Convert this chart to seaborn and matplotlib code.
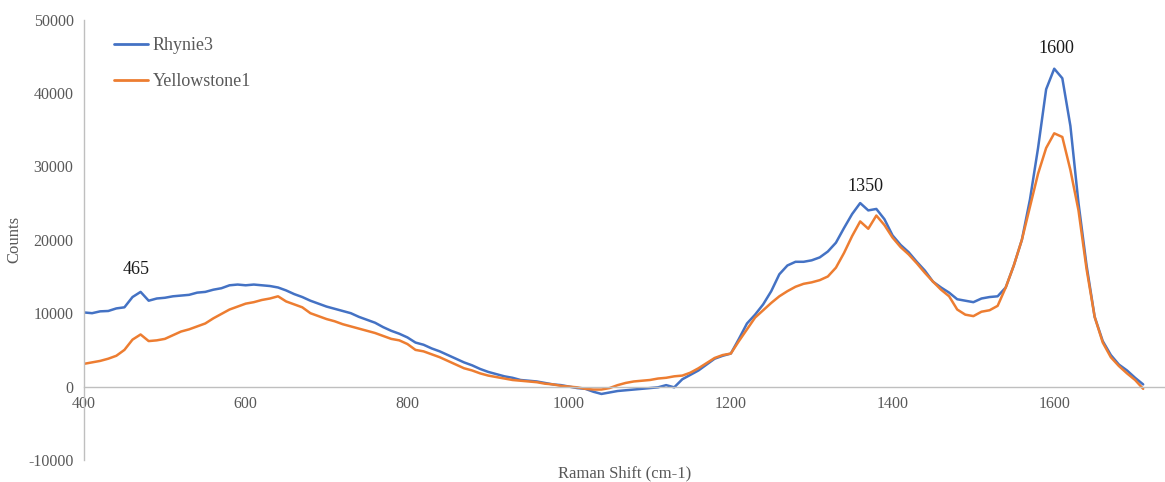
import numpy as np
import pandas as pd
import matplotlib
matplotlib.use("Agg")
import matplotlib.pyplot as plt
import seaborn as sns

# --- data (every 10 cm-1) ---
raman_shift = list(range(400, 1720, 10))

rhynie3 = [
    10100, 10000, 10250, 10300, 10650, 10800, 12200, 12900, 11700, 12000,   # 400-490
    12100, 12300, 12400, 12500, 12800, 12900, 13200, 13400, 13800, 13900,   # 500-590
    13800, 13900, 13800, 13700, 13500, 13100, 12600, 12200, 11700, 11300,   # 600-690
    10900, 10600, 10300, 10000, 9500, 9100, 8700, 8100, 7600, 7200,         # 700-790
    6700, 6000, 5700, 5200, 4800, 4300, 3800, 3300, 2900, 2400,             # 800-890
    2000, 1700, 1400, 1200, 900, 800, 700, 500, 300, 200,                   # 900-990
    0, -200, -300, -700, -1000, -800, -600, -500, -400, -300,               # 1000-1090
    -200, -100, 200, -100, 1000, 1600, 2200, 3000, 3800, 4200,              # 1100-1190
    4500, 6500, 8600, 9800, 11200, 13000, 15300, 16500, 17000, 17000,       # 1200-1290
    17200, 17600, 18400, 19600, 21600, 23500, 25000, 24000, 24200, 22800,   # 1300-1390
    20600, 19300, 18300, 17000, 15800, 14300, 13500, 12800, 11900, 11700,   # 1400-1490
    11500, 12000, 12200, 12300, 13500, 16500, 20000, 25500, 32500, 40500,   # 1500-1590
    43300, 42000, 35500, 25000, 16500, 9500, 6200, 4300, 3000, 2200,        # 1600-1690
    1200, 300,                                                              # 1700-1710
]

yellowstone1 = [
    3100, 3300, 3500, 3800, 4200, 5000, 6400, 7100, 6200, 6300,             # 400-490
    6500, 7000, 7500, 7800, 8200, 8600, 9300, 9900, 10500, 10900,           # 500-590
    11300, 11500, 11800, 12000, 12300, 11600, 11200, 10800, 10000, 9600,    # 600-690
    9200, 8900, 8500, 8200, 7900, 7600, 7300, 6900, 6500, 6300,             # 700-790
    5800, 5000, 4800, 4400, 4000, 3500, 3000, 2500, 2200, 1800,             # 800-890
    1500, 1300, 1100, 900, 800, 700, 600, 400, 300, 100,                    # 900-990
    0, -100, -300, -400, -400, -200, 200, 500, 700, 800,                    # 1000-1090
    900, 1100, 1200, 1400, 1500, 1900, 2500, 3200, 3900, 4300,              # 1100-1190
    4500, 6200, 7800, 9400, 10400, 11400, 12300, 13000, 13600, 14000,       # 1200-1290
    14200, 14500, 15000, 16200, 18200, 20500, 22500, 21500, 23300, 22000,   # 1300-1390
    20300, 19000, 18000, 16800, 15500, 14300, 13200, 12300, 10500, 9800,    # 1400-1490
    9600, 10200, 10400, 11000, 13500, 16500, 20000, 24500, 29000, 32500,    # 1500-1590
    34500, 34000, 29500, 24000, 16000, 9500, 6000, 4000, 2800, 1800,        # 1600-1690
    900, -300,                                                              # 1700-1710
]

peak_labels = ["465", "1350", "1600"]
peak_x = [464, 1367, 1602]
peak_y = [15900, 27200, 46000]

x_ticks = [400, 600, 800, 1000, 1200, 1400, 1600]
y_ticks = [-10000, 0, 10000, 20000, 30000, 40000, 50000]

df = pd.DataFrame({
    "Raman Shift (cm-1)": raman_shift * 2,
    "Counts": rhynie3 + yellowstone1,
    "sample": ["Rhynie3"] * len(raman_shift) + ["Yellowstone1"] * len(raman_shift),
})

# --- style ---
sns.set_style("white")
plt.rcParams["font.family"] = ["Liberation Serif", "DejaVu Serif"]
plt.rcParams["axes.unicode_minus"] = False
grey = "#bfbfbf"
text_grey = "#595959"

fig = plt.figure(figsize=(11.65, 4.82), dpi=100)
ax = fig.add_axes([0.0721, 0.0456, 1.0 - 0.0721, 0.9595 - 0.0456])

sns.lineplot(data=df, x="Raman Shift (cm-1)", y="Counts", hue="sample",
             palette=["#4472C4", "#ED7D31"], linewidth=1.8, ax=ax)

ax.set_xlim(400, 1737)
ax.set_ylim(-10000, 50000)
ax.set_xticks(x_ticks)
ax.set_yticks(y_ticks)

# x axis drawn along y = 0, like the spreadsheet chart
ax.spines["bottom"].set_position(("data", 0))
for side in ["top", "right"]:
    ax.spines[side].set_visible(False)
for side in ["left", "bottom"]:
    ax.spines[side].set_color(grey)
    ax.spines[side].set_linewidth(1.0)
ax.tick_params(axis="both", colors=grey, length=4, width=1.0,
               labelcolor=text_grey, labelsize=11.5)
ax.tick_params(axis="x", direction="out", pad=3)

ax.set_xlabel("Raman Shift (cm-1)", fontsize=12, color=text_grey, va="center")
ax.set_ylabel("Counts", fontsize=12, color=text_grey, va="center")
ax.xaxis.set_label_coords(0.5, -0.03)
ax.yaxis.set_label_coords(-0.064, 0.5)

for lab, px, py in zip(peak_labels, peak_x, peak_y):
    ax.text(px, py, lab, ha="center", va="center", fontsize=13, color="#1a1a1a")

leg = ax.legend(loc="upper left", bbox_to_anchor=(0.0125, 0.997), frameon=False,
                fontsize=13, handlelength=1.9, handletextpad=0.25, labelspacing=1.05)
for t in leg.get_texts():
    t.set_color(text_grey)
for h in leg.get_lines():
    h.set_linewidth(2.0)

fig.savefig("out.png", dpi=100)
